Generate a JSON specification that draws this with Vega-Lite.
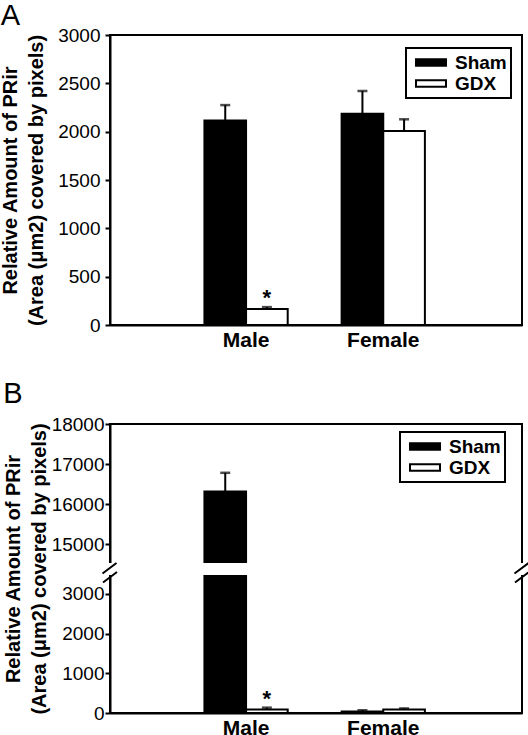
{
  "$schema": "https://vega.github.io/schema/vega-lite/v6.json",
  "padding": {"left": -1, "top": 1, "right": 0, "bottom": 0},
  "background": "white",
  "config": {
    "font": "Liberation Sans",
    "view": {"stroke": "black", "strokeWidth": 2},
    "axis": {"domainColor": "black", "domainWidth": 2, "tickColor": "black", "tickWidth": 2, "labelColor": "black", "titleColor": "black", "grid": false},
    "title": {"anchor": "start", "frame": "bounds", "fontSize": 29, "fontWeight": "normal", "color": "black"},
    "legend": {"title": null, "orient": "none", "direction": "vertical", "strokeColor": "black", "strokeWidth": 2, "padding": 4, "fillColor": "white",
      "symbolType": "M-1,-0.34H2.158V0.34H-1Z", "symbolSize": 361, "symbolStrokeColor": "black", "symbolStrokeWidth": 2, "symbolOffset": 5,
      "labelFontSize": 19, "labelFontWeight": "bold", "labelColor": "black", "labelOffset": 19, "rowPadding": -8}
  },
  "datasets": {
    "a": [
      {"sex": "Male", "group": "Sham", "mean": 2115, "upper": 2275, "sig": ""},
      {"sex": "Male", "group": "GDX", "mean": 165, "upper": 185, "sig": "*"},
      {"sex": "Female", "group": "Sham", "mean": 2185, "upper": 2420, "sig": ""},
      {"sex": "Female", "group": "GDX", "mean": 2007, "upper": 2128, "sig": ""}
    ],
    "b": [
      {"sex": "Male", "group": "Sham", "mean": 16310, "upper": 16780, "sig": ""},
      {"sex": "Male", "group": "GDX", "mean": 85, "upper": 135, "sig": "*"},
      {"sex": "Female", "group": "Sham", "mean": 40, "upper": 70, "sig": ""},
      {"sex": "Female", "group": "GDX", "mean": 90, "upper": 115, "sig": ""}
    ],
    "gap": [{"lo": 3500, "hi": 14500}],
    "breaks": [{"side": "L"}, {"side": "R"}]
  },
  "resolve": {"legend": {"fill": "independent"}},
  "spacing": 28,
  "vconcat": [
    {
      "title": {"text": "A", "offset": -5},
      "width": 412,
      "height": 290,
      "data": {"name": "a"},
      "encoding": {
        "x": {"field": "sex", "type": "nominal", "sort": ["Male", "Female"],
          "scale": {"paddingInner": 0.393, "paddingOuter": 0.698, "align": 0.493},
          "axis": {"title": null, "labelAngle": 0, "labelFontSize": 21, "labelFontWeight": "bold", "ticks": false, "labelPadding": 4}},
        "xOffset": {"field": "group", "sort": ["Sham", "GDX"], "scale": {"paddingInner": 0, "paddingOuter": 0}}
      },
      "layer": [
        {
          "mark": {"type": "bar", "stroke": "black", "strokeWidth": 2},
          "encoding": {
            "y": {"field": "mean", "type": "quantitative", "scale": {"domain": [0, 3000], "nice": false},
              "axis": {"title": ["Relative Amount of PRir", "(Area (μm2) covered by pixels)"], "values": [0, 500, 1000, 1500, 2000, 2500, 3000], "format": "d",
                "labelFontSize": 19, "tickSize": 5, "labelPadding": 5, "titleFontSize": 20, "titleFontWeight": "bold", "titlePadding": 11, "titleLineHeight": 26}},
            "fill": {"field": "group", "type": "nominal", "scale": {"domain": ["Sham", "GDX"], "range": ["black", "white"]},
              "legend": {"legendX": 296, "legendY": 13}}
          }
        },
        {
          "mark": {"type": "rule", "strokeWidth": 2, "color": "black"},
          "encoding": {"y": {"field": "mean", "type": "quantitative"}, "y2": {"field": "upper"}}
        },
        {
          "mark": {"type": "tick", "color": "black", "size": 10, "thickness": 2.5},
          "encoding": {"y": {"field": "upper", "type": "quantitative"}}
        },
        {
          "mark": {"type": "text", "fontSize": 22, "fontWeight": "bold", "dy": -9, "color": "black"},
          "encoding": {"y": {"field": "upper", "type": "quantitative"}, "text": {"field": "sig"}}
        }
      ]
    },
    {
      "title": {"text": "B", "offset": 6},
      "width": 412,
      "height": 289,
      "data": {"name": "b"},
      "layer": [
        {
          "encoding": {
            "x": {"field": "sex", "type": "nominal", "sort": ["Male", "Female"],
              "scale": {"paddingInner": 0.393, "paddingOuter": 0.698, "align": 0.493},
              "axis": {"title": null, "labelAngle": 0, "labelFontSize": 21, "labelFontWeight": "bold", "ticks": false, "labelPadding": 4}},
            "xOffset": {"field": "group", "sort": ["Sham", "GDX"], "scale": {"paddingInner": 0, "paddingOuter": 0}}
          },
          "layer": [
            {
              "mark": {"type": "bar", "stroke": "black", "strokeWidth": 2},
              "encoding": {
                "y": {"field": "mean", "type": "quantitative",
                  "scale": {"domain": [0, 3500, 14500, 18000], "range": [289, 150, 140, 0], "nice": false, "zero": false},
                  "axis": {"title": ["Relative Amount of PRir", "(Area (μm2) covered by pixels)"], "values": [0, 1000, 2000, 3000, 15000, 16000, 17000, 18000], "format": "d",
                    "labelFontSize": 19, "tickSize": 5, "labelPadding": 1, "titleFontSize": 20, "titleFontWeight": "bold", "titlePadding": 2, "titleLineHeight": 26}},
                "fill": {"field": "group", "type": "nominal", "scale": {"domain": ["Sham", "GDX"], "range": ["black", "white"]},
                  "legend": {"legendX": 290, "legendY": 8}}
              }
            },
            {
              "mark": {"type": "rule", "strokeWidth": 2, "color": "black"},
              "encoding": {"y": {"field": "mean", "type": "quantitative"}, "y2": {"field": "upper"}}
            },
            {
              "mark": {"type": "tick", "color": "black", "size": 10, "thickness": 2.5},
              "encoding": {"y": {"field": "upper", "type": "quantitative"}}
            },
            {
              "mark": {"type": "text", "fontSize": 22, "fontWeight": "bold", "dy": -9, "color": "black"},
              "encoding": {"y": {"field": "upper", "type": "quantitative"}, "text": {"field": "sig"}}
            }
          ]
        },
        {
          "data": {"name": "gap"},
          "mark": {"type": "rect", "fill": "white", "stroke": "white", "strokeWidth": 2},
          "encoding": {"y": {"field": "lo", "type": "quantitative"}, "y2": {"field": "hi"}}
        },
        {
          "data": {"name": "breaks"},
          "mark": {"type": "point", "shape": "M-7.5,4.5L6.5,-6M-7,13.5L7,3", "size": 4, "stroke": "black", "strokeWidth": 2, "filled": false, "opacity": 1},
          "encoding": {
            "x": {"field": "side", "type": "nominal", "scale": {"type": "point", "padding": 0, "domain": ["L", "R"]}, "axis": null},
            "y": {"datum": 9000, "type": "quantitative"}
          }
        }
      ],
      "resolve": {"scale": {"x": "independent"}}
    }
  ]
}
